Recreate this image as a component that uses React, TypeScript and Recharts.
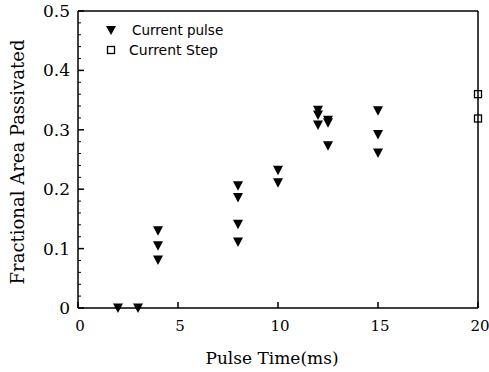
import React from "react"
import {
  ScatterChart,
  Scatter,
  XAxis,
  YAxis,
  ReferenceLine,
} from "recharts"

// Current pulse series
const pulseTime = [2, 3, 4, 4, 4, 8, 8, 8, 8, 10, 10, 12, 12, 12, 12.5, 12.5, 12.5, 15, 15, 15]
const pulseArea = [0, 0, 0.13, 0.105, 0.081, 0.206, 0.186, 0.141, 0.111, 0.232, 0.211, 0.333, 0.325, 0.308, 0.316, 0.312, 0.273, 0.332, 0.292, 0.261]

// Current step series
const stepTime = [20, 20]
const stepArea = [0.36, 0.319]

const xTicks = [0, 5, 10, 15, 20]
const yMajor = [0, 0.1, 0.2, 0.3, 0.4, 0.5]
const yTickLabels = ["0", "0.1", "0.2", "0.3", "0.4", "0.5"]
const yTicks = [0, 0.02, 0.04, 0.06, 0.08, 0.1, 0.12, 0.14, 0.16, 0.18, 0.2, 0.22, 0.24, 0.26, 0.28, 0.3, 0.32, 0.34, 0.36, 0.38, 0.4, 0.42, 0.44, 0.46, 0.48, 0.5]

const pulseData = pulseTime.map((t, i) => ({ t, a: pulseArea[i] }))
const stepData = stepTime.map((t, i) => ({ t, a: stepArea[i] }))

const serif = "'DejaVu Serif', serif"

const Triangle = (props: any) => {
  const { cx, cy } = props
  return <path d={`M${cx - 5},${cy - 4.5} L${cx + 5},${cy - 4.5} L${cx},${cy + 5} Z`} fill="#000" />
}

const Square = (props: any) => {
  const { cx, cy } = props
  return <rect x={cx - 3.5} y={cy - 3.5} width={7} height={7} fill="none" stroke="#000" strokeWidth={1.3} />
}

const XTick = (props: any) => {
  const { x, y, payload } = props
  return (
    <g>
      <line x1={x} y1={y} x2={x} y2={y - 6} stroke="#000" strokeWidth={1.5} />
      <text x={x + 2} y={y + 23} textAnchor="middle" style={{ fontFamily: serif, fontSize: 15 }} fill="#000">
        {payload.value}
      </text>
    </g>
  )
}

const YTick = (props: any) => {
  const { x, y, payload } = props
  const idx = yMajor.findIndex((v) => Math.abs(v - payload.value) < 1e-6)
  if (idx < 0) {
    return <line x1={x} y1={y} x2={x + 3} y2={y} stroke="#000" strokeWidth={1} />
  }
  return (
    <g>
      <line x1={x} y1={y} x2={x + 6} y2={y} stroke="#000" strokeWidth={1.5} />
      <text x={x - 8} y={y + 6} textAnchor="end" style={{ fontFamily: serif, fontSize: 17 }} fill="#000">
        {yTickLabels[idx]}
      </text>
    </g>
  )
}

export default function App() {
  return (
    <div style={{ position: "absolute", left: 0, top: 0, width: 489, height: 372, background: "#fff" }}>
      <ScatterChart width={489} height={372} margin={{ top: 11, right: 11, bottom: 0, left: 0 }}>
        <XAxis
          type="number"
          dataKey="t"
          domain={[0, 20]}
          ticks={xTicks}
          interval={0}
          height={64}
          tickSize={0}
          tickMargin={0}
          tick={<XTick />}
          axisLine={{ stroke: "#000", strokeWidth: 1.5 }}
          label={{
            content: () => (
              <text x={272} y={364} textAnchor="middle" style={{ fontFamily: serif, fontSize: 17 }} fill="#000">
                Pulse Time(ms)
              </text>
            ),
          }}
        />
        <YAxis
          type="number"
          dataKey="a"
          domain={[0, 0.5]}
          ticks={yTicks}
          interval={0}
          width={78}
          tickSize={0}
          tickMargin={0}
          tick={<YTick />}
          axisLine={{ stroke: "#000", strokeWidth: 1.5 }}
          label={{
            content: () => (
              <text
                x={24}
                y={162}
                textAnchor="middle"
                transform="rotate(-90 24 162)"
                style={{ fontFamily: serif, fontSize: 18 }}
                fill="#000"
              >
                Fractional Area Passivated
              </text>
            ),
          }}
        />
        <ReferenceLine y={0.5} stroke="#000" strokeWidth={1.5} />
        <ReferenceLine x={20} stroke="#000" strokeWidth={1.5} />
        <Scatter data={pulseData} shape={<Triangle />} isAnimationActive={false} />
        <Scatter data={stepData} shape={<Square />} isAnimationActive={false} />
      </ScatterChart>
      <div
        style={{
          position: "absolute",
          left: 105,
          top: 20,
          fontFamily: "'DejaVu Sans', sans-serif",
          fontSize: 13.5,
          color: "#000",
          lineHeight: "20px",
        }}
      >
        <div style={{ display: "flex", alignItems: "center" }}>
          <svg width={12} height={12} style={{ marginRight: 15 }}>
            <path d="M1,2 L11,2 L6,11 Z" fill="#000" />
          </svg>
          <span>Current pulse</span>
        </div>
        <div style={{ display: "flex", alignItems: "center" }}>
          <svg width={12} height={12} style={{ marginRight: 12 }}>
            <rect x={2.5} y={2.5} width={7} height={7} fill="#fff" stroke="#000" strokeWidth={1.3} />
          </svg>
          <span style={{ fontSize: 14 }}>Current Step</span>
        </div>
      </div>
    </div>
  )
}
